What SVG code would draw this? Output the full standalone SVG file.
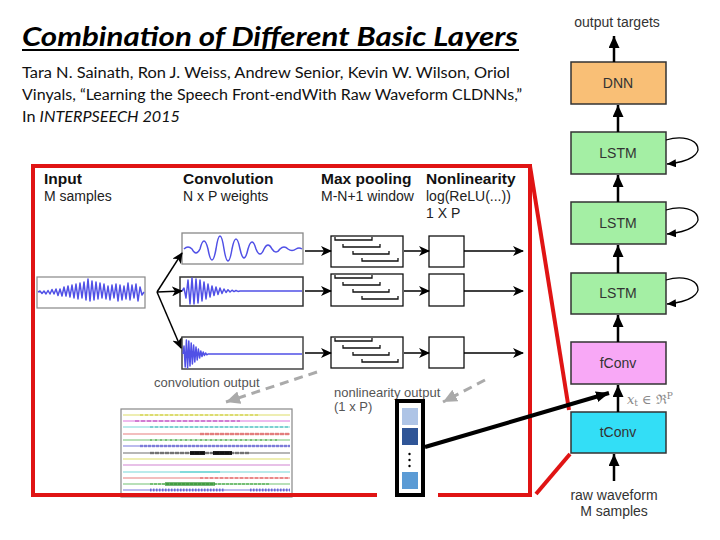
<svg xmlns="http://www.w3.org/2000/svg" width="720" height="540" viewBox="0 0 720 540">
<style>
.hd{font-family:"Liberation Sans",Arial,sans-serif;font-weight:bold;font-size:15.5px;fill:#111}
.sb{font-family:"Liberation Sans",Arial,sans-serif;font-size:14px;fill:#222}
.gl{font-family:"Liberation Sans",Arial,sans-serif;font-size:13px;fill:#555}
.nl{font-family:"Liberation Sans",Arial,sans-serif;font-size:14px;fill:#333;text-anchor:middle}
.cap{font-family:Lato,"Liberation Sans",sans-serif;font-size:15.5px;fill:#111}
.wv{fill:none;stroke:#5050e6;stroke-width:1.5;stroke-linejoin:round}
.ln{stroke:#000;stroke-width:1.5;fill:none;marker-end:url(#ah)}
.up{stroke:#000;stroke-width:2.5;fill:none;marker-end:url(#ahR)}
.lp{stroke:#000;stroke-width:1.3;fill:none;marker-end:url(#ahL)}
.box{stroke:#333;stroke-width:1.5}
.pb{fill:#fff;stroke:#111;stroke-width:1.3}
.br{fill:none;stroke:#111;stroke-width:1.3}
.red{stroke:#e01414;stroke-width:4;fill:none}
.ch{stroke-width:1.2;opacity:0.7}
.tx{opacity:0.45}
</style>
<defs>
<marker id="ah" markerUnits="userSpaceOnUse" markerWidth="11" markerHeight="10" refX="10" refY="5" orient="auto"><path d="M0,0 L11,5 L0,10 L3,5 z" fill="#000"/></marker>
<marker id="ahR" markerUnits="userSpaceOnUse" markerWidth="12" markerHeight="11" refX="12" refY="5.5" orient="auto"><path d="M0,0 L12,5.5 L0,11 z" fill="#000"/></marker>
<marker id="ahL" markerUnits="userSpaceOnUse" markerWidth="9" markerHeight="8" refX="9" refY="4" orient="auto"><path d="M0,0 L9,4 L0,8 z" fill="#000"/></marker>
<marker id="ahG" markerUnits="userSpaceOnUse" markerWidth="14" markerHeight="13" refX="14" refY="6.5" orient="auto"><path d="M0,0 L14,6.5 L0,13 z" fill="#aaa"/></marker>
<marker id="ahB" markerUnits="userSpaceOnUse" markerWidth="13" markerHeight="11" refX="13" refY="5.5" orient="auto"><path d="M0,0 L13,5.5 L0,11 z" fill="#000"/></marker>
<clipPath id="imgclip"><rect x="121" y="409" width="171" height="85"/></clipPath>
</defs>
<rect width="720" height="540" fill="#fff"/>

<g id="title">
<text x="22" y="46" font-family="Lato,'Liberation Sans',sans-serif" font-weight="bold" font-style="italic" font-size="27" fill="#000" textLength="496" lengthAdjust="spacingAndGlyphs">Combination of Different Basic Layers</text>
<line x1="22" y1="50" x2="519" y2="50" stroke="#000" stroke-width="2"/>
</g>
<g id="citation">
<text class="cap" x="22" y="78" textLength="488" lengthAdjust="spacingAndGlyphs">Tara N. Sainath, Ron J. Weiss, Andrew Senior, Kevin W. Wilson, Oriol</text>
<text class="cap" x="22" y="100" textLength="500" lengthAdjust="spacingAndGlyphs">Vinyals, “Learning the Speech Front-endWith Raw Waveform CLDNNs,”</text>
<text class="cap" x="22" y="122" textLength="158" lengthAdjust="spacingAndGlyphs">In <tspan font-style="italic">INTERPSEECH 2015</tspan></text>
</g>

<g id="headers">
<text class="hd" x="44" y="184">Input</text>
<text class="sb" x="44" y="201">M samples</text>
<text class="hd" x="183" y="184">Convolution</text>
<text class="sb" x="183" y="201">N x P weights</text>
<text class="hd" x="321" y="184">Max pooling</text>
<text class="sb" x="321" y="201">M-N+1 window</text>
<text class="hd" x="426" y="184">Nonlinearity</text>
<text class="sb" x="426" y="201">log(ReLU(...))</text>
<text class="sb" x="426" y="218">1 X P</text>
</g>

<g id="input">
<rect x="37" y="277" width="108" height="31" fill="#fff" stroke="#888" stroke-width="1.2"/>
<polyline class="wv" stroke-width="1.2" points="38,292 40,291 42,293.5 44,291 46,294 48,290.5 50,294 52,289.5 54,294 56,289 58,295.5 60,289 62,296 64,287 66,296 68,286 70,297 72,285 74,298 76,284 78,299 80,283 82,298 84,282 86,300 88,279 90,301 92,281 94,300 96,282 98,299 100,283 102,298 104,284 106,299 108,286 110,300 112,285 114,298 116,284 118,301 120,285 122,300 124,286 126,299 128,283 130,300 132,285 134,298 136,284 138,301 140,287 142,295 144,292"/>
</g>

<g id="conv1">
<rect x="182" y="233" width="121" height="31" fill="#fff" stroke="#888" stroke-width="1.3"/>
<path class="wv" stroke-width="1.8" d="M184,249 Q188,245 192,249 Q196,257 200,249 Q204,233 208,249 Q212,271 216,249 Q220,223 224,249 Q228,273 232,249 Q236,229 240,249 Q244,267 248,249 Q252,235 256,249 Q260,259 264,249 Q268,241 272,249 Q276,255 280,249 Q284,245 288,249 Q292,252 296,249 Q299,247 302,249"/>
</g>
<g id="conv2">
<rect x="180" y="277" width="123" height="29" fill="#fff" stroke="#333" stroke-width="1.5"/>
<polyline class="wv" stroke-width="1.3" points="182,291 184,288 186,298 188,280 190,304 192,278 194,304 196,279 198,303 200,280 202,301 204,282 206,299 208,284 210,297 212,286 214,295.5 216,287 218,294.5 220,288 222,293.5 224,289 226,292.5 228,289.8 230,292 232,290.2 234,291.6 236,290.5 238,291.4 240,291 302,291"/>
</g>
<g id="conv3">
<rect x="182" y="337" width="121" height="32" fill="#fff" stroke="#444" stroke-width="1.5"/>
<polyline class="wv" stroke-width="1.3" points="183,354 184,346 185.2,367 186.4,340 187.6,368 188.8,341 190,366 191.2,343 192.4,364 193.6,345 194.8,362 196,347 197.2,360 198.4,349 199.6,358 200.8,351 202,356.5 203.2,352 204.4,355.5 205.6,353 206.8,354.8 208,354 302,354"/>
</g>

<g id="pool1">
<rect class="pb" x="331" y="236" width="72" height="31"/>
<path class="br" d="M335,237v3h37v-3 M343,244v3h37v-3 M353,251v3h36v-3 M362,258v3h36v-3"/>
</g>
<g id="pool2">
<rect class="pb" x="331" y="274" width="72" height="32"/>
<path class="br" d="M335,275v3h37v-3 M343,282v3h37v-3 M353,289v3h36v-3 M362,296v3h36v-3"/>
</g>
<g id="pool3">
<rect class="pb" x="331" y="337" width="72" height="31"/>
<path class="br" d="M335,338v3h37v-3 M343,345v3h37v-3 M353,352v3h36v-3 M362,359v3h36v-3"/>
</g>
<g id="nonlin1"><rect class="pb" x="429" y="236" width="35" height="31"/></g>
<g id="nonlin2"><rect class="pb" x="429" y="274" width="35" height="32"/></g>
<g id="nonlin3"><rect class="pb" x="429" y="337" width="35" height="31"/></g>

<g id="conv-output-image">
<rect x="121" y="409" width="171" height="88" fill="#fff" stroke="#888" stroke-width="1.2"/>
<g clip-path="url(#imgclip)">
<line class="ch" x1="123" y1="415" x2="290" y2="415" stroke="#d2d22a"/>
<line class="tx" x1="140" y1="415" x2="260" y2="415" stroke="#c8c820" stroke-width="2" stroke-dasharray="3 2"/>
<line class="ch" x1="123" y1="421" x2="290" y2="421" stroke="#d040d0"/>
<line class="tx" x1="135" y1="421" x2="240" y2="421" stroke="#b030b0" stroke-width="2" stroke-dasharray="4 2"/>
<line class="ch" x1="123" y1="427" x2="290" y2="427" stroke="#40c8c8"/>
<line class="tx" x1="150" y1="427" x2="290" y2="427" stroke="#30b0b0" stroke-width="2" stroke-dasharray="3 2"/>
<line class="ch" x1="123" y1="434" x2="290" y2="434" stroke="#e04848"/>
<line class="tx" x1="200" y1="434" x2="290" y2="434" stroke="#d03030" stroke-width="2.5" stroke-dasharray="4 1"/>
<line class="ch" x1="123" y1="440" x2="290" y2="440" stroke="#38a838"/>
<line class="tx" x1="150" y1="440" x2="280" y2="440" stroke="#289828" stroke-width="1.8" stroke-dasharray="2 3"/>
<line class="ch" x1="123" y1="446" x2="290" y2="446" stroke="#4040d0"/>
<line class="tx" x1="140" y1="446" x2="290" y2="446" stroke="#3030c0" stroke-width="2.5" stroke-dasharray="3 1"/>
<line class="ch" x1="123" y1="453" x2="290" y2="453" stroke="#333"/>
<line class="tx" x1="150" y1="453" x2="250" y2="453" stroke="#222" stroke-width="2.5" stroke-dasharray="4 1"/>
<line x1="190" y1="453" x2="205" y2="453" stroke="#000" stroke-width="4" opacity="0.85"/>
<line x1="213" y1="453" x2="232" y2="453" stroke="#000" stroke-width="4" opacity="0.85"/>
<line class="ch" x1="123" y1="459" x2="290" y2="459" stroke="#d2d22a"/>
<line class="ch" x1="123" y1="465" x2="290" y2="465" stroke="#c050c0"/>
<line class="ch" x1="123" y1="472" x2="290" y2="472" stroke="#40c8c8"/>
<line class="tx" x1="180" y1="472" x2="220" y2="472" stroke="#40c8c8" stroke-width="2"/>
<line class="ch" x1="123" y1="478" x2="290" y2="478" stroke="#e04848"/>
<line class="tx" x1="200" y1="478" x2="290" y2="478" stroke="#e04848" stroke-width="1.8" stroke-dasharray="3 2"/>
<line class="ch" x1="123" y1="484" x2="290" y2="484" stroke="#38a838"/>
<line class="tx" x1="150" y1="484" x2="270" y2="484" stroke="#289828" stroke-width="2" stroke-dasharray="3 1"/>
<line x1="165" y1="484" x2="215" y2="484" stroke="#208820" stroke-width="4" opacity="0.6"/>
<line class="ch" x1="123" y1="490" x2="290" y2="490" stroke="#4040d0"/>
<line x1="150" y1="490" x2="225" y2="490" stroke="#3030c0" stroke-width="3" stroke-dasharray="1.5 1.5" opacity="0.6"/>
<line x1="250" y1="490" x2="290" y2="490" stroke="#3030c0" stroke-width="3" stroke-dasharray="1.5 1.5" opacity="0.6"/>
</g>
</g>

<g id="labels">
<text class="gl" x="154" y="387">convolution output</text>
<text class="gl" x="334" y="397">nonlinearity output</text>
<text class="gl" x="334" y="411">(1 x P)</text>
</g>

<g id="frame">
<rect class="red" x="33" y="166" width="497" height="329"/>
<line class="red" x1="530" y1="166" x2="569" y2="410"/>
<line class="red" x1="536" y1="494" x2="570" y2="454"/>
<rect x="377" y="492" width="61" height="6" fill="#fff"/>
</g>

<g id="nonlin-output-column">
<rect x="397" y="401" width="26" height="94" fill="#fff" stroke="#000" stroke-width="4"/>
<rect x="402" y="408" width="16" height="17" fill="#aec4e6"/>
<rect x="402" y="428" width="16" height="17" fill="#2f5597"/>
<circle cx="409.5" cy="454" r="1.2" fill="#000"/>
<circle cx="409.5" cy="460" r="1.2" fill="#000"/>
<circle cx="409.5" cy="466" r="1.2" fill="#000"/>
<rect x="402" y="472" width="16" height="17" fill="#5b9bd5"/>
</g>

<g id="dnn"><rect class="box" x="571" y="62" width="95" height="42" fill="#f9bf76"/><text class="nl" x="618" y="88" font-size="13.5">DNN</text></g>
<g id="lstm1"><rect class="box" x="571" y="132" width="95" height="42" fill="#a4efa4"/><text class="nl" x="618" y="158">LSTM</text></g>
<g id="lstm2"><rect class="box" x="571" y="202" width="95" height="42" fill="#a4efa4"/><text class="nl" x="618" y="228">LSTM</text></g>
<g id="lstm3"><rect class="box" x="571" y="273" width="95" height="41" fill="#a4efa4"/><text class="nl" x="618" y="298">LSTM</text></g>
<g id="fconv"><rect class="box" x="571" y="342" width="95" height="42" fill="#f8a8f6"/><text class="nl" x="618" y="368">fConv</text></g>
<g id="tconv"><rect class="box" x="571" y="412" width="95" height="41" fill="#33def6"/><text class="nl" x="618" y="437">tConv</text></g>
<g id="texts-right">
<text class="nl" x="617" y="27">output targets</text>
<text class="nl" x="614" y="500" font-size="13.5">raw waveform</text>
<text class="nl" x="614" y="516" font-size="13.5">M samples</text>
<text x="627" y="404" font-family="'DejaVu Serif','Liberation Serif',serif" font-size="13" fill="#888"><tspan font-style="italic">x</tspan><tspan font-size="9" dy="2">t</tspan><tspan dy="-2"> ∈ ℜ</tspan><tspan font-size="9" dy="-5">P</tspan></text>
</g>

<g id="connectors">
<line class="ln" x1="157" y1="292" x2="182" y2="253"/>
<line class="ln" x1="157" y1="292" x2="182" y2="291"/>
<line class="ln" x1="157" y1="292" x2="181" y2="348"/>
<line class="ln" x1="305" y1="251" x2="331" y2="251"/>
<line class="ln" x1="305" y1="291" x2="331" y2="291"/>
<line class="ln" x1="305" y1="353" x2="331" y2="353"/>
<line class="ln" x1="404" y1="251" x2="429" y2="251"/>
<line class="ln" x1="404" y1="291" x2="429" y2="291"/>
<line class="ln" x1="404" y1="353" x2="429" y2="353"/>
<line class="ln" x1="464" y1="251" x2="523" y2="251"/>
<line class="ln" x1="464" y1="291" x2="523" y2="291"/>
<line class="ln" x1="464" y1="353" x2="523" y2="353"/>
<line x1="317" y1="372" x2="226" y2="402" stroke="#aaa" stroke-width="3" stroke-dasharray="9 6" marker-end="url(#ahG)"/>
<line x1="485" y1="380" x2="443" y2="402" stroke="#aaa" stroke-width="3" stroke-dasharray="9 6" marker-end="url(#ahG)"/>
<line x1="425" y1="447" x2="609" y2="393" stroke="#000" stroke-width="4" marker-end="url(#ahB)"/>
<line class="up" x1="614" y1="62" x2="614" y2="36"/>
<line class="up" x1="618" y1="132" x2="618" y2="105"/>
<line class="up" x1="618" y1="202" x2="618" y2="175"/>
<line class="up" x1="618" y1="273" x2="618" y2="245"/>
<line class="up" x1="618" y1="342" x2="618" y2="315"/>
<line class="up" x1="618" y1="412" x2="618" y2="385"/>
<line class="up" x1="614" y1="481" x2="614" y2="454"/>
<path class="lp" d="M666,140 C700,130 716,160 667,164"/>
<path class="lp" d="M666,210 C700,200 716,230 667,234"/>
<path class="lp" d="M666,280 C700,270 716,300 667,304"/>
</g>
</svg>
